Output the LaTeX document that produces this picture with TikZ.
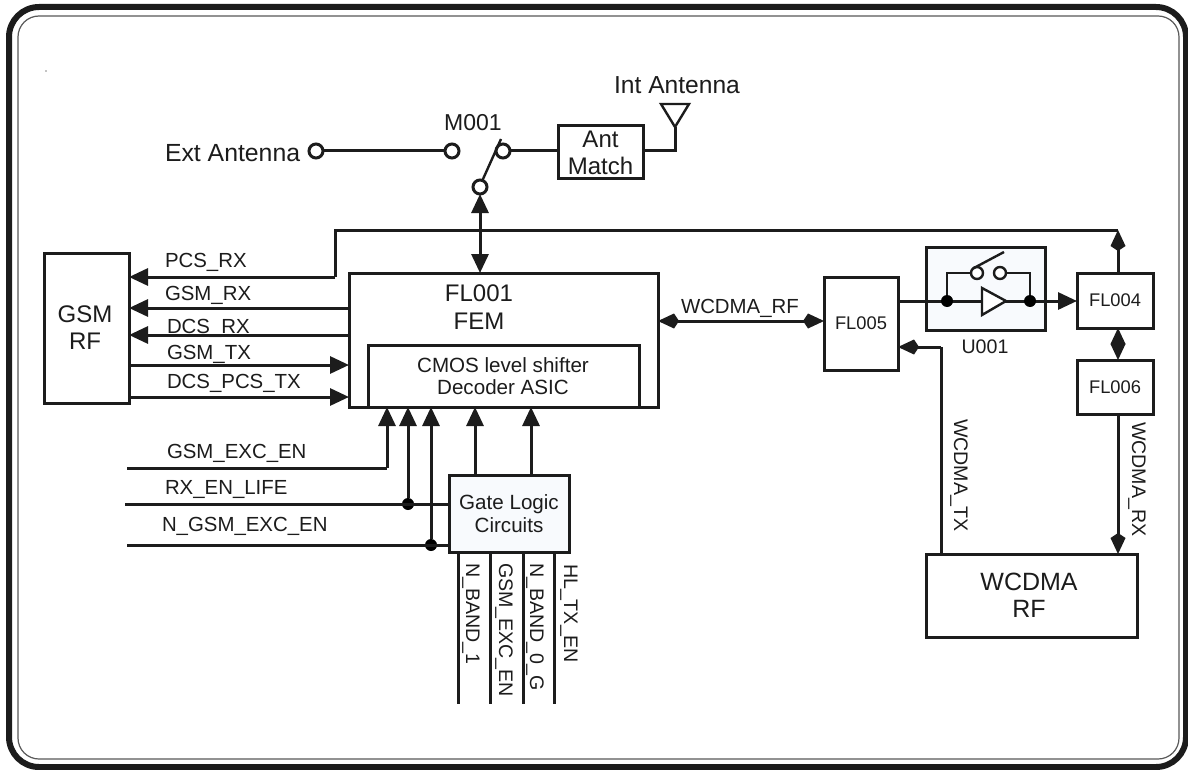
\documentclass[tikz,border=0pt]{standalone}
\usepackage{fontspec}
\setmainfont{Liberation Sans}
\usetikzlibrary{arrows.meta}
\definecolor{ink}{HTML}{1C1C1C}
\definecolor{pale}{HTML}{F8FAFD}
\tikzset{
 x=1pt,y=-1pt,
 every node/.style={text=ink,outer sep=0pt},
 box/.style={draw=ink,line width=3pt,fill=white,inner sep=0pt,align=center},
 wire/.style={draw=ink,line width=3pt},
 tri/.tip={Triangle[length=19pt,width=17pt]},
 kit/.tip={Kite[length=21pt,width=15pt,inset=5pt]},
 arr/.style={wire,-{tri}},
 darr/.style={wire,{tri}-{tri}},
 karr/.style={wire,-{kit}},
 dkarr/.style={wire,{kit}-{kit}},
 term/.style={circle,draw=ink,line width=3pt,fill=white,minimum size=14pt,inner sep=0pt},
 smallterm/.style={term,minimum size=12pt},
 dotm/.style={circle,fill=black,minimum size=12pt,inner sep=0pt},
 lbl/.style={font=\fontsize{20.4}{24}\selectfont,inner sep=0pt,anchor=west,text height=14.6pt,text depth=0pt},
 vl/.style={font=\fontsize{19.6}{24}\selectfont,inner sep=0pt,rotate=-90,anchor=west,text height=14pt,text depth=0pt},
 txt/.style={inner sep=0pt,align=center},
}
\begin{document}
\begin{tikzpicture}
\useasboundingbox (0,0) rectangle (1188,770);
\fill[white] (0,0) rectangle (1188,770);
\draw[line width=6pt,ink,rounded corners=30pt] (9,7) rectangle (1186,767);
\draw[line width=1.2pt,black!65,rounded corners=21pt] (18,16) rectangle (1179,759);
\fill[black] (46,71) circle (0.6pt);
% boxes
\node[box,minimum width=85pt,minimum height=150pt] (gsm) at (86.5,328) {};
\node[txt,font=\fontsize{24}{27}\selectfont] (gsmt) at (85,328) {GSM\\RF};
\node[box,minimum width=309pt,minimum height=134pt] (fem) at (503.5,340) {};
\node[txt,font=\fontsize{24}{27.5}\selectfont] (femt) at (479,307) {FL001\\FEM};
\node[box,minimum width=271pt,minimum height=62pt] (asic) at (503.5,376) {};
\node[txt,font=\fontsize{20.6}{22}\selectfont] (asict) at (503,376) {CMOS level shifter\\Decoder ASIC};
\node[box,fill=pale,minimum width=120pt,minimum height=77pt,font=\fontsize{20.6}{23}\selectfont] (gate) at (509,513.5) {Gate Logic\\Circuits};
\node[box,minimum width=85pt,minimum height=53pt,font=\fontsize{24}{27}\selectfont] (ant) at (600.5,152.5) {Ant\\Match};
\node[box,minimum width=74pt,minimum height=93pt,font=\fontsize{18.3}{22}\selectfont] (fl5) at (861,323.5) {FL005};
\node[box,fill=pale,minimum width=119pt,minimum height=83pt] (u1) at (985.5,288.5) {};
\node[box,minimum width=76pt,minimum height=55pt,font=\fontsize{18.3}{22}\selectfont] (fl4) at (1115,300.5) {FL004};
\node[box,minimum width=76pt,minimum height=54pt,font=\fontsize{18.3}{22}\selectfont] (fl6) at (1115,387) {FL006};
\node[box,minimum width=211pt,minimum height=83pt] (wrf) at (1031.5,595.5) {};
\node[txt,font=\fontsize{25}{27.5}\selectfont] (wrft) at (1029,595.5) {WCDMA\\RF};
% switch M001
\node[term] (m1) at (316,151) {};
\node[term] (m2) at (452,151) {};
\node[term] (m3) at (503,151) {};
\node[term] (m4) at (480,187) {};
\draw[wire] (m1) -- (m2);
\draw[wire] (m3) -- (ant.west |- m3);
\draw[wire,line width=2.4pt] (m4.70) -- (501,139);
\coordinate (antfoot) at (675,151);
\coordinate (anttip) at (675,127);
\coordinate (antl) at (661,104);
\coordinate (antr) at (689,104);
\draw[wire] (ant.east |- antfoot) -- (antfoot) -- (anttip);
\draw[draw=ink,line width=2.4pt,line join=miter] (antl) -- (antr) -- (anttip) -- cycle;
\draw[darr] (m4) -- (fem.north -| m4);
% left side buses
\coordinate (top) at (1118,230);
\coordinate (pcsa) at (335,230);
\coordinate (pcsb) at (335,277);
\draw[wire,line join=miter] (top) -- (pcsa) -- (pcsb);
\draw[arr] (pcsb) -- (gsm.east |- pcsb);
\coordinate (y1) at (0,308); \coordinate (y2) at (0,335);
\coordinate (y3) at (0,365); \coordinate (y4) at (0,397);
\draw[arr] (fem.west |- y1) -- (gsm.east |- y1);
\draw[arr] (fem.west |- y2) -- (gsm.east |- y2);
\draw[arr] (gsm.east |- y3) -- (fem.west |- y3);
\draw[arr] (gsm.east |- y4) -- (fem.west |- y4);
% control lines
\coordinate (c1) at (127,468); \coordinate (c1b) at (387,468);
\coordinate (c2) at (125,504); \coordinate (c3) at (127,545);
\node[dotm] (d1) at (408,504) {};
\node[dotm] (d2) at (431,545) {};
\draw[wire] (c1) -- (c1b);
\draw[arr] (c1b) -- (fem.south -| c1b);
\draw[wire] (c2) -- (gate.west |- c2);
\draw[wire] (c3) -- (gate.west |- c3);
\draw[arr] (d1) -- (fem.south -| d1);
\draw[arr] (d2) -- (fem.south -| d2);
\coordinate (g1) at (475,0); \coordinate (g2) at (531,0);
\draw[arr] (gate.north -| g1) -- (fem.south -| g1);
\draw[arr] (gate.north -| g2) -- (fem.south -| g2);
% gate outputs
\foreach \n/\x in {a/458,b/490,c/523,d/554}{
  \coordinate (o\n) at (\x,704);
  \draw[wire] (gate.south -| o\n) -- (o\n);
}
% right part
\coordinate (wy) at (0,321);
\draw[dkarr] (fem.east |- wy) -- (fl5.west |- wy);
\coordinate (uw) at (0,301);
\draw[arr] (fl5.east |- uw) -- (fl4.west |- uw);
\coordinate (ta) at (941,554);
\coordinate (tb) at (941,347);
\draw[wire,line join=miter] (ta) -- (tb);
\draw[karr] (tb) -- (fl5.east |- tb);
\draw[karr] (fl4.north -| top) -- (top);
\draw[dkarr] (fl4.south -| top) -- (fl6.north -| top);
\draw[karr] (fl6.south -| top) -- (wrf.north -| top);
% U001 internals
\node[dotm] (ud1) at (947,301) {};
\node[dotm] (ud2) at (1030,301) {};
\coordinate (ta1) at (982,288); \coordinate (ta2) at (982,315); \coordinate (ta3) at (1006,301);
\draw[draw=ink,fill=white,line width=2.4pt,line join=miter] (ta1) -- (ta2) -- (ta3) -- cycle;
\node[smallterm,line width=2.4pt] (us1) at (977,273) {};
\node[smallterm,line width=2.4pt] (us2) at (1000,273) {};
\coordinate (up1) at (947,273); \coordinate (up2) at (1030,273);
\draw[wire,line width=2.4pt] (ud1) -- (up1) -- (us1);
\draw[wire,line width=2.4pt] (ud2) -- (up2) -- (us2);
\draw[wire,line width=2.4pt] (us1.130) -- (1004,252);
% labels
\node[txt,font=\fontsize{24.6}{28}\selectfont] (lint) at (677,85) {Int Antenna};
\node[lbl,font=\fontsize{24.8}{28}\selectfont,text height=17.6pt] (lext) at (165,153) {Ext Antenna};
\node[txt,font=\fontsize{23}{28}\selectfont] (lm) at (473,123) {M001};
\node[lbl] (l1) at (165,260) {PCS\_RX};
\node[lbl] (l2) at (165,293) {GSM\_RX};
\node[lbl] (l3) at (167,326) {DCS\_RX};
\node[lbl] (l4) at (167,352) {GSM\_TX};
\node[lbl] (l5) at (167,381) {DCS\_PCS\_TX};
\node[lbl] (l6) at (167,451) {GSM\_EXC\_EN};
\node[lbl] (l7) at (165,487) {RX\_EN\_LIFE};
\node[lbl] (l8) at (162,524) {N\_GSM\_EXC\_EN};
\node[lbl] (l9) at (681,306) {WCDMA\_RF};
\node[txt,font=\fontsize{19.6}{24}\selectfont] (lu) at (985,347) {U001};
\node[vl] (v1) at (473,563) {N\_BAND\_1};
\node[vl] (v2) at (506,563) {GSM\_EXC\_EN};
\node[vl] (v3) at (537,563) {N\_BAND\_0\_G};
\node[vl] (v4) at (571,564) {HL\_TX\_EN};
\node[vl] (v5) at (961,419) {WCDMA\_TX};
\node[vl] (v6) at (1139,422) {WCDMA\_RX};
\end{tikzpicture}
\end{document}
